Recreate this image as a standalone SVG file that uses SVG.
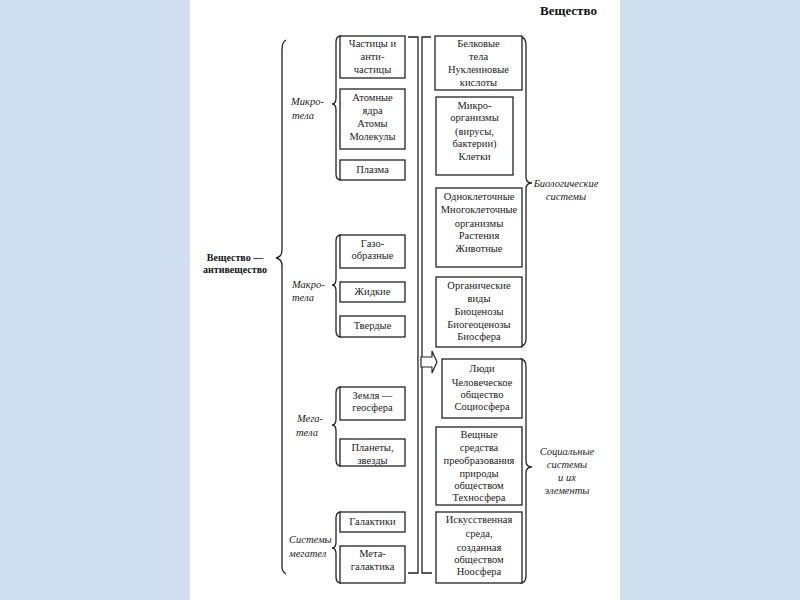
<svg xmlns="http://www.w3.org/2000/svg" width="800" height="600" viewBox="0 0 800 600">
<style>
.box{fill:#fff;stroke:#222;stroke-width:1.3}
.ln{fill:none;stroke:#222;stroke-width:1.3}
.t{font-family:"Liberation Serif","Times New Roman",serif;font-size:10.5px;fill:#222;text-anchor:middle}
.i{font-family:"Liberation Serif","Times New Roman",serif;font-size:10.5px;font-style:italic;fill:#222}
.b{font-family:"Liberation Serif","Times New Roman",serif;font-weight:bold;fill:#111}
</style>
<rect x="0" y="0" width="800" height="600" fill="#cfdff0"/>
<rect x="190" y="0" width="430" height="600" fill="#ffffff"/>

<text class="b" x="540" y="15" font-size="13">Вещество</text>

<g id="root">
<text class="b" x="235" y="261" font-size="10" text-anchor="middle">Вещество —</text>
<text class="b" x="235" y="273" font-size="10" text-anchor="middle">антивещество</text>
<path class="ln" d="M286 40 Q282 42 282 50 L282 250 Q282 257 276 258 Q282 259 282 266 L282 566 Q282 572 286 574"/>
</g>

<g id="micro">
<text class="i" x="291" y="105">Микро-</text>
<text class="i" x="292" y="119">тела</text>
<path class="ln" d="M341 36 Q336 36 336 42 L336 98 Q336 104 332 104 Q336 104 336 110 L336 174 Q336 180 341 180"/>
</g>
<g id="n-particles"><rect class="box" x="340" y="36" width="65" height="42"/>
<text class="t" x="372.5" y="47">Частицы и</text><text class="t" x="372.5" y="60">анти-</text><text class="t" x="372.5" y="73">частицы</text></g>
<g id="n-atoms"><rect class="box" x="340" y="89" width="65" height="60"/>
<text class="t" x="372.5" y="101">Атомные</text><text class="t" x="372.5" y="114">ядра</text><text class="t" x="372.5" y="127">Атомы</text><text class="t" x="372.5" y="140">Молекулы</text></g>
<g id="n-plasma"><rect class="box" x="340" y="160" width="65" height="20"/>
<text class="t" x="372.5" y="173">Плазма</text></g>

<g id="macro">
<text class="i" x="292" y="288">Макро-</text>
<text class="i" x="292" y="301">тела</text>
<path class="ln" d="M341 235 Q336 235 336 241 L336 279 Q336 285 332 285 Q336 285 336 291 L336 331 Q336 337 341 337"/>
</g>
<g id="n-gas"><rect class="box" x="340" y="235" width="65" height="33"/>
<text class="t" x="372.5" y="247">Газо-</text><text class="t" x="372.5" y="259">образные</text></g>
<g id="n-liquid"><rect class="box" x="340" y="282" width="65" height="20"/>
<text class="t" x="372.5" y="295">Жидкие</text></g>
<g id="n-solid"><rect class="box" x="340" y="316" width="65" height="21"/>
<text class="t" x="372.5" y="329">Твердые</text></g>

<g id="mega">
<text class="i" x="297" y="422">Мега-</text>
<text class="i" x="296" y="436">тела</text>
<path class="ln" d="M341 387 Q336 387 336 393 L336 419 Q336 425 332 425 Q336 425 336 431 L336 460 Q336 466 341 466"/>
</g>
<g id="n-earth"><rect class="box" x="340" y="387" width="65" height="33"/>
<text class="t" x="372.5" y="399">Земля —</text><text class="t" x="372.5" y="411">геосфера</text></g>
<g id="n-planets"><rect class="box" x="340" y="439" width="65" height="27"/>
<text class="t" x="372.5" y="451">Планеты,</text><text class="t" x="372.5" y="464">звезды</text></g>

<g id="systems">
<text class="i" x="289" y="543">Системы</text>
<text class="i" x="289" y="557">мегател</text>
<path class="ln" d="M341 512 Q336 512 336 518 L336 542 Q336 548 332 548 Q336 548 336 554 L336 577 Q336 583 341 583"/>
</g>
<g id="n-galaxies"><rect class="box" x="340" y="512" width="65" height="20"/>
<text class="t" x="372.5" y="525">Галактики</text></g>
<g id="n-metagalaxy"><rect class="box" x="340" y="546" width="65" height="37"/>
<text class="t" x="372.5" y="557">Мета-</text><text class="t" x="372.5" y="570">галактика</text></g>

<g id="connectors">
<path class="ln" d="M408 37 L418 37 L418 573 L408 573"/>
<path class="ln" d="M431 37 L422 37 L422 573 L432 573"/>
<polygon points="421,357 432,357 432,351 437,362 432,373 432,367 421,367" fill="#fff" stroke="#222" stroke-width="1.2"/>
</g>

<g id="bio">
<path class="ln" d="M520 37 Q526 37 526 45 L526 177 Q526 183 532 183 Q526 183 526 189 L526 339 Q526 346 520 346"/>
<text class="i" x="566" y="187" text-anchor="middle" font-size="10">Биологические</text>
<text class="i" x="566" y="200" text-anchor="middle" font-size="10">системы</text>
</g>
<g id="n-proteins"><rect class="box" x="435" y="36" width="87" height="54"/>
<text class="t" x="478.5" y="47">Белковые</text><text class="t" x="478.5" y="60">тела</text><text class="t" x="478.5" y="73">Нуклеиновые</text><text class="t" x="478.5" y="86">кислоты</text></g>
<g id="n-microorg"><rect class="box" x="436" y="97" width="77" height="78"/>
<text class="t" x="474.5" y="109">Микро-</text><text class="t" x="474.5" y="121">организмы</text><text class="t" x="474.5" y="135">(вирусы,</text><text class="t" x="474.5" y="147">бактерии)</text><text class="t" x="474.5" y="160">Клетки</text></g>
<g id="n-organisms"><rect class="box" x="436" y="188" width="86" height="79"/>
<text class="t" x="479" y="200">Одноклеточные</text><text class="t" x="479" y="213">Многоклеточные</text><text class="t" x="479" y="227">организмы</text><text class="t" x="479" y="239">Растения</text><text class="t" x="479" y="252">Животные</text></g>
<g id="n-species"><rect class="box" x="436" y="277" width="86" height="70"/>
<text class="t" x="479" y="289">Органические</text><text class="t" x="479" y="302">виды</text><text class="t" x="479" y="315">Биоценозы</text><text class="t" x="479" y="328">Биогеоценозы</text><text class="t" x="479" y="340">Биосфера</text></g>

<g id="social">
<path class="ln" d="M520 359 Q526 359 526 367 L526 461 Q526 467 532 467 Q526 467 526 473 L526 576 Q526 583 520 583"/>
<text class="i" x="567" y="455" text-anchor="middle" font-size="10">Социальные</text>
<text class="i" x="567" y="468" text-anchor="middle" font-size="10">системы</text>
<text class="i" x="567" y="481" text-anchor="middle" font-size="10">и их</text>
<text class="i" x="567" y="494" text-anchor="middle" font-size="10">элементы</text>
</g>
<g id="n-people"><rect class="box" x="442" y="359" width="80" height="59"/>
<text class="t" x="482" y="372">Люди</text><text class="t" x="482" y="386">Человеческое</text><text class="t" x="482" y="398">общество</text><text class="t" x="482" y="410">Социосфера</text></g>
<g id="n-techno"><rect class="box" x="436" y="427" width="86" height="78"/>
<text class="t" x="479" y="438">Вещные</text><text class="t" x="479" y="451">средства</text><text class="t" x="479" y="464">преобразования</text><text class="t" x="479" y="477">природы</text><text class="t" x="479" y="489">обществом</text><text class="t" x="479" y="501">Техносфера</text></g>
<g id="n-noosphere"><rect class="box" x="436" y="512" width="86" height="71"/>
<text class="t" x="479" y="523">Искусственная</text><text class="t" x="479" y="537">среда,</text><text class="t" x="479" y="551">созданная</text><text class="t" x="479" y="563">обществом</text><text class="t" x="479" y="575">Ноосфера</text></g>
</svg>
